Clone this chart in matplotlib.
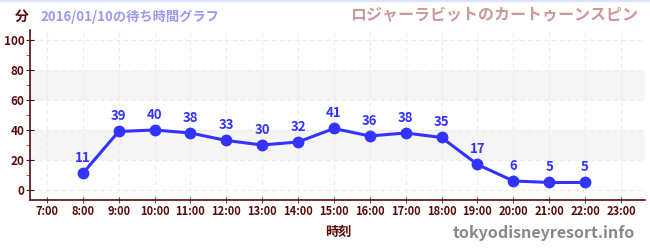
import matplotlib
matplotlib.use("Agg")
import matplotlib.pyplot as plt
from matplotlib.lines import Line2D

plt.rcParams['font.family'] = ['Noto Sans CJK JP', 'DejaVu Sans']

hours = [8, 9, 10, 11, 12, 13, 14, 15, 16, 17, 18, 19, 20, 21, 22]
waits = [11, 39, 40, 38, 33, 30, 32, 41, 36, 38, 35, 17, 6, 5, 5]
xticks = list(range(7, 24))
xlabels = [f"{h}:00" for h in xticks]
yticks = [0, 20, 40, 60, 80, 100]

dark = '#5a0a0a'
blue = '#3333ff'

fig = plt.figure(figsize=(6.5, 2.5), dpi=100)
ax = fig.add_axes([30/650, 50/250, 615/650, 170/250])
ax.set_xlim(6.53, 23.67)
ax.set_ylim(-6.7, 106.7)

for lo, hi in [(20, 40), (60, 80)]:
    ax.axhspan(lo, hi, color='#f5f5f5', zorder=0, lw=0)
for y in yticks:
    ax.axhline(y, color='#ebebeb', lw=0.8, ls=(0, (4, 3)), zorder=0.5)
for x in xticks:
    ax.axvline(x, color='#ebebeb', lw=0.8, ls=(0, (4, 3)), zorder=0.5)

ax.plot(hours, waits, color=blue, lw=2.2, marker='o', ms=7.5, zorder=3)
for h, w in zip(hours, waits):
    ax.annotate(str(w), (h, w), xytext=(0, 6), textcoords='offset points',
                ha='center', va='bottom', color=blue, fontsize=9.5,
                fontweight='bold', zorder=4)

ax.set_xticks(xticks)
ax.set_xticklabels(xlabels)
ax.set_yticks(yticks)
ax.set_yticks([10, 30, 50, 70, 90], minor=True)
ax.tick_params(axis='x', which='major', direction='inout', length=5,
               color='#555555', labelcolor=dark, labelsize=8, pad=1)
ax.tick_params(axis='y', which='major', direction='inout', length=6,
               color='#222222', labelcolor=dark, labelsize=8.5, pad=1)
ax.tick_params(axis='y', which='minor', direction='out', length=3,
               color='#dd2222')
for lab in ax.get_xticklabels() + ax.get_yticklabels():
    lab.set_fontweight('bold')

for s in ['top', 'right']:
    ax.spines[s].set_visible(False)
for s in ['left', 'bottom']:
    ax.spines[s].set_color(dark)
    ax.spines[s].set_linewidth(1.2)

fig.add_artist(Line2D([0, 1], [0.996, 0.996], color='#dde0ff', lw=1.5,
                      transform=fig.transFigure))

fig.text(22/650, 1 - 17/250, '分', color=dark, fontsize=10,
         fontweight='bold', ha='center', va='center')
fig.text(40/650, 1 - 17/250, '2016/01/10の待ち時間グラフ', color='#9999ee',
         fontsize=9.5, fontweight='bold', ha='left', va='center')
fig.text(638/650, 1 - 14/250, 'ロジャーラビットのカートゥーンスピン',
         color='#cc9999', fontsize=11.5, fontweight='bold', ha='right',
         va='center')
fig.text(338/650, 1 - 232/250, '時刻', color=dark, fontsize=9.5,
         fontweight='bold', ha='center', va='center')
fig.text(635/650, 1 - 233/250, 'tokyodisneyresort.info', color='#888888',
         fontsize=11.5, fontweight='bold', ha='right', va='center')

fig.savefig('out.png', dpi=100)
